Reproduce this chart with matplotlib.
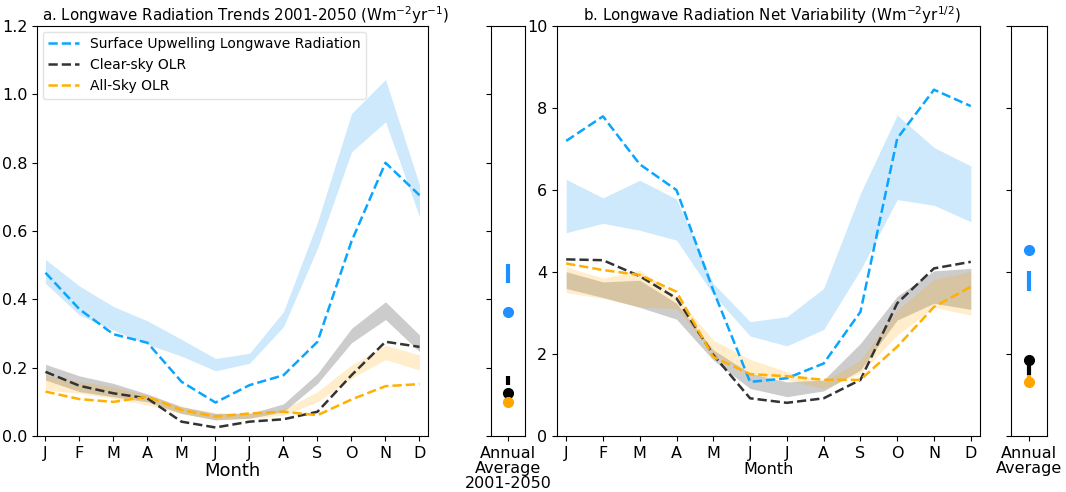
import numpy as np
import matplotlib.pyplot as plt

months = ['J', 'F', 'M', 'A', 'M', 'J', 'J', 'A', 'S', 'O', 'N', 'D']

# panel a: trends 2001-2050
a_sulw = [0.478, 0.371, 0.298, 0.273, 0.159, 0.098, 0.149, 0.178, 0.276, 0.57, 0.80, 0.705]
a_sulw_hi = [0.517, 0.439, 0.379, 0.337, 0.283, 0.227, 0.242, 0.364, 0.626, 0.944, 1.044, 0.735]
a_sulw_lo = [0.447, 0.354, 0.31, 0.268, 0.234, 0.191, 0.213, 0.32, 0.55, 0.832, 0.92, 0.642]
a_clr = [0.188, 0.147, 0.125, 0.110, 0.042, 0.025, 0.042, 0.049, 0.071, 0.178, 0.276, 0.261]
a_clr_hi = [0.21, 0.176, 0.154, 0.123, 0.086, 0.066, 0.066, 0.094, 0.183, 0.315, 0.393, 0.296]
a_clr_lo = [0.164, 0.13, 0.115, 0.10, 0.066, 0.047, 0.052, 0.071, 0.154, 0.273, 0.341, 0.247]
a_all = [0.13, 0.108, 0.10, 0.115, 0.076, 0.057, 0.066, 0.071, 0.061, 0.107, 0.146, 0.152]
a_all_hi = [0.178, 0.159, 0.144, 0.12, 0.086, 0.068, 0.068, 0.078, 0.13, 0.208, 0.266, 0.237]
a_all_lo = [0.135, 0.125, 0.11, 0.091, 0.066, 0.049, 0.052, 0.061, 0.10, 0.169, 0.224, 0.193]
a_ann_dots = [0.362, 0.125, 0.099]          # sulw, clear, all-sky
a_ann_bars = [(0.449, 0.505), (0.149, 0.176), None]

# panel b: net variability
b_sulw = [7.20, 7.80, 6.63, 6.0, 3.55, 1.32, 1.41, 1.77, 3.03, 7.26, 8.45, 8.05]
b_sulw_hi = [6.26, 5.81, 6.24, 5.78, 3.72, 2.79, 2.91, 3.6, 5.92, 7.83, 7.04, 6.59]
b_sulw_lo = [4.96, 5.19, 5.02, 4.78, 3.45, 2.44, 2.2, 2.6, 4.05, 5.77, 5.63, 5.23]
b_clr = [4.31, 4.29, 3.9, 3.36, 1.98, 0.92, 0.81, 0.92, 1.37, 3.24, 4.09, 4.25]
b_clr_hi = [4.01, 3.76, 3.8, 3.24, 2.1, 1.53, 1.32, 1.37, 2.26, 3.41, 4.03, 4.09]
b_clr_lo = [3.6, 3.38, 3.14, 2.85, 1.85, 1.16, 0.96, 1.1, 1.61, 2.83, 3.24, 3.09]
b_all = [4.21, 4.05, 3.93, 3.52, 1.93, 1.51, 1.46, 1.37, 1.37, 2.18, 3.15, 3.64]
b_all_hi = [4.13, 3.85, 4.05, 3.4, 2.34, 1.87, 1.57, 1.32, 1.85, 3.07, 3.82, 4.01]
b_all_lo = [3.5, 3.36, 3.15, 3.11, 2.02, 1.49, 1.37, 1.16, 1.53, 2.46, 3.14, 2.95]
b_ann_dots = [4.55, 1.85, 1.32]
b_ann_bars = [(3.54, 4.03), (1.5, 1.85), (1.42, 1.5)]

c_blue = '#0aa5ff'
c_blue_dot = '#1e90ff'
c_dark = '#333333'
c_orange = '#ffb000'
x = np.arange(12)

fig = plt.figure(figsize=(10.66, 4.92), dpi=100)
axa = fig.add_axes([0.0347, 0.1138, 0.3668, 0.833])
axa2 = fig.add_axes([0.4603, 0.1138, 0.0322, 0.833])
axb = fig.add_axes([0.5225, 0.1138, 0.3968, 0.833])
axb2 = fig.add_axes([0.9487, 0.1138, 0.0335, 0.833])


def monthly(ax, s, shi, slo, c, chi, clo, al, ahi, alo):
    ax.fill_between(x, slo, shi, color='#cde9fb', lw=0)
    ax.fill_between(x, clo, chi, color='grey', alpha=0.4, lw=0)
    ax.fill_between(x, alo, ahi, color='orange', alpha=0.2, lw=0)
    ax.plot(x, s, '--', color=c_blue, lw=1.8, label='Surface Upwelling Longwave Radiation')
    ax.plot(x, c, '--', color=c_dark, lw=1.8, label='Clear-sky OLR')
    ax.plot(x, al, '--', color=c_orange, lw=1.8, label='All-Sky OLR')
    ax.set_xticks(x)
    ax.set_xticklabels(months)
    ax.set_xlim(-0.25, 11.25)
    ax.tick_params(labelsize=11.5)


def annual(ax, dots, bars, ylim, label):
    cols = [c_blue_dot, 'black', 'orange']
    for d, b, col in zip(dots, bars, cols):
        if b is not None:
            ax.plot([0, 0], b, color=col, lw=3, solid_capstyle='butt')
        ax.plot(0, d, 'o', color=col, ms=7)
    ax.set_xlim(-1, 1)
    ax.set_ylim(*ylim)
    ax.set_xticks([0])
    ax.set_xticklabels([label], fontsize=11.5, linespacing=1.0)
    ax.tick_params(axis='y', labelleft=False)


monthly(axa, a_sulw, a_sulw_hi, a_sulw_lo, a_clr, a_clr_hi, a_clr_lo,
        a_all, a_all_hi, a_all_lo)
axa.set_ylim(0, 1.2)
axa.set_yticks(np.arange(0, 1.21, 0.2))
axa.set_xlabel('Month', fontsize=13, labelpad=1)
axa.text(0.013, 1.013, r'a. Longwave Radiation Trends 2001-2050 (Wm$^{-2}$yr$^{-1}$)',
         transform=axa.transAxes, fontsize=10.8, ha='left', va='baseline')
axa.legend(loc='upper left', fontsize=10, handlelength=2.2, edgecolor='#dddddd',
           borderaxespad=0.4)
annual(axa2, a_ann_dots, a_ann_bars, (0, 1.2), 'Annual\nAverage\n2001-2050')
axa2.set_yticks(np.arange(0, 1.21, 0.2))

monthly(axb, b_sulw, b_sulw_hi, b_sulw_lo, b_clr, b_clr_hi, b_clr_lo,
        b_all, b_all_hi, b_all_lo)
axb.set_ylim(0, 10)
axb.set_yticks(np.arange(0, 10.1, 2))
axb.set_xlabel('Month', fontsize=11.5, labelpad=1)
axb.text(0.508, 1.013, r'b. Longwave Radiation Net Variability (Wm$^{-2}$yr$^{1/2}$)',
         transform=axb.transAxes, fontsize=10.8, ha='center', va='baseline')
annual(axb2, b_ann_dots, b_ann_bars, (0, 10), 'Annual\nAverage')
axb2.set_yticks(np.arange(0, 10.1, 2))

fig.savefig('out.png', dpi=100)
